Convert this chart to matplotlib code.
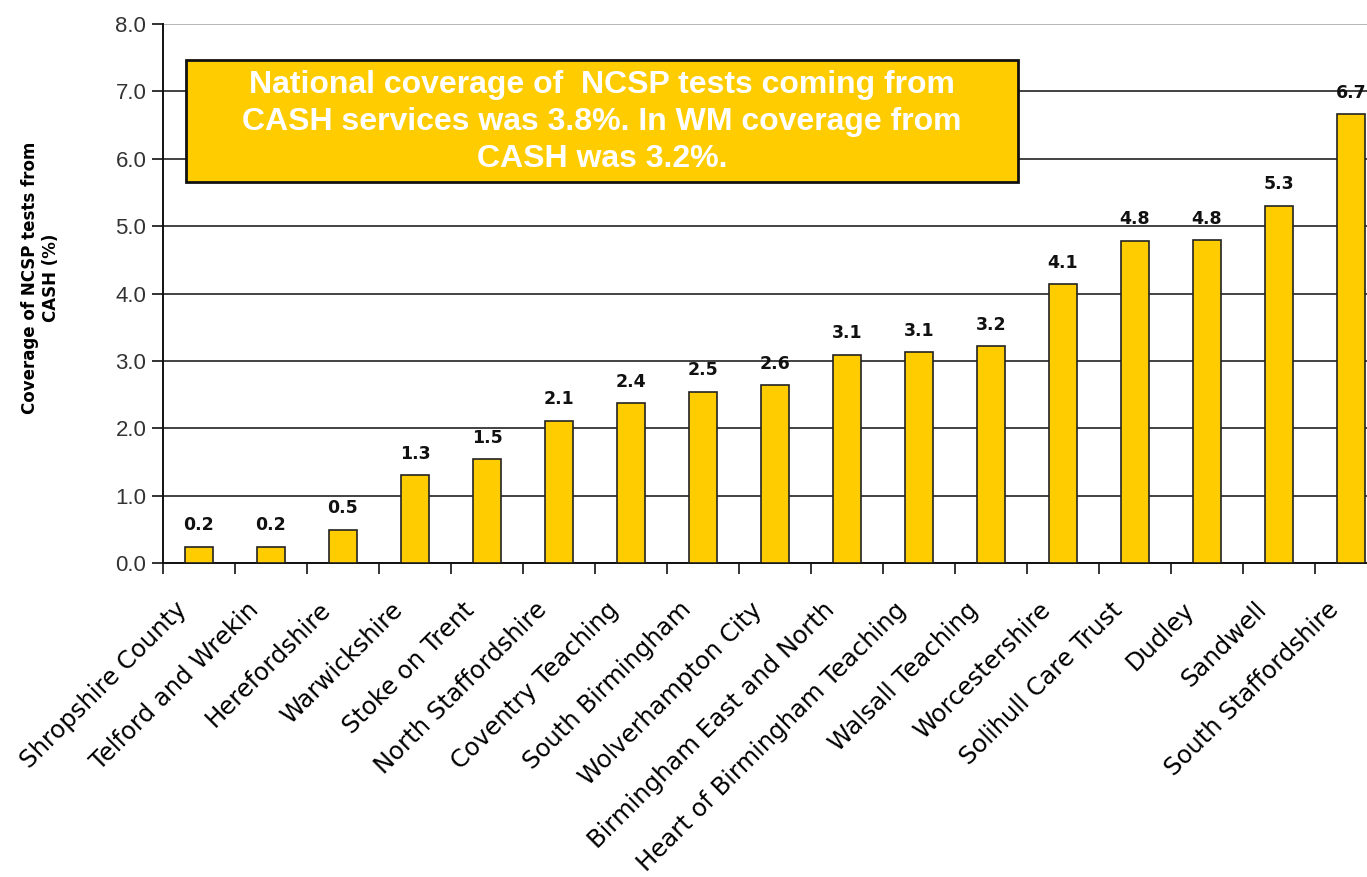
import numpy as np
import matplotlib.pyplot as plt
import matplotlib.transforms as mtransforms
from matplotlib.ticker import FixedLocator, NullFormatter

# data
areas = [
    "Shropshire County", "Telford and Wrekin", "Herefordshire", "Warwickshire",
    "Stoke on Trent", "North Staffordshire", "Coventry Teaching", "South Birmingham",
    "Wolverhampton City", "Birmingham East and North", "Heart of Birmingham Teaching",
    "Walsall Teaching", "Worcestershire", "Solihull Care Trust", "Dudley",
    "Sandwell", "South Staffordshire",
]
coverage = [0.24, 0.24, 0.49, 1.30, 1.54, 2.11, 2.37, 2.54, 2.64, 3.09, 3.13,
            3.22, 4.14, 4.78, 4.79, 5.30, 6.66]
shown = ["0.2", "0.2", "0.5", "1.3", "1.5", "2.1", "2.4", "2.5", "2.6", "3.1",
         "3.1", "3.2", "4.1", "4.8", "4.8", "5.3", "6.7"]
yticks = np.arange(0, 8.1, 1.0)

note = ("National coverage of  NCSP tests coming from\n"
        "CASH services was 3.8%. In WM coverage from\n"
        "CASH was 3.2%.")

yellow = "#FFCC00"

fig = plt.figure(figsize=(13.67, 8.77), dpi=100)
ax = fig.add_axes([163 / 1367, 1 - 563 / 877, 1224 / 1367, 539 / 877])

x = np.arange(len(areas))
bars = ax.bar(x, coverage, width=0.4, color=yellow, edgecolor="#222222",
              linewidth=1.2, zorder=3)

for b, txt in zip(bars, shown):
    ax.annotate(txt, (b.get_x() + b.get_width() / 2, b.get_height()),
                xytext=(0, 9), textcoords="offset points", ha="center",
                va="bottom", fontsize=12.5, fontweight="bold",
                family="DejaVu Sans", color="#111111")

ax.set_xlim(-0.5, len(areas) - 0.5)
ax.set_ylim(0, 8)
ax.set_yticks(yticks)
ax.set_yticklabels([f"{v:.1f}" for v in yticks], fontsize=16,
                   family="Liberation Sans", color="#333333")
ax.tick_params(axis="y", length=8, width=1.2, direction="out", color="#111111", pad=4)

ax.set_xticks(x)
ax.set_xticklabels(areas, rotation=45, ha="right", va="center",
                   rotation_mode="anchor", fontsize=17.5, family="DejaVu Sans")
ax.tick_params(axis="x", which="major", length=0, pad=31)
shift = mtransforms.ScaledTranslation(-16 / 100, 0, fig.dpi_scale_trans)
for lab in ax.get_xticklabels():
    lab.set_transform(lab.get_transform() + shift)
ax.xaxis.set_minor_locator(FixedLocator(np.arange(-0.5, len(areas), 1.0)))
ax.xaxis.set_minor_formatter(NullFormatter())
ax.tick_params(axis="x", which="minor", length=8, width=1.2, direction="out",
               color="#111111")

ax.grid(axis="y", color="#222222", linewidth=1.2, zorder=0)
ax.set_axisbelow(True)
ax.yaxis.get_gridlines()[-1].set_color("#aaaaaa")
for s in ["top", "right"]:
    ax.spines[s].set_visible(False)
for s in ["left", "bottom"]:
    ax.spines[s].set_color("#111111")
    ax.spines[s].set_linewidth(1.4)

ax.set_ylabel("Coverage of NCSP tests from\nCASH (%)", fontsize=12,
              fontweight="bold", family="DejaVu Sans")
ax.yaxis.set_label_coords(-0.084, 0.529)

# note box
box = plt.Rectangle((186 / 1367, 1 - 182 / 877), 832 / 1367, 122 / 877,
                    transform=fig.transFigure, facecolor=yellow,
                    edgecolor="#111111", linewidth=2, zorder=5)
fig.patches.append(box)
fig.text(602 / 1367, 1 - 122 / 877, note, ha="center", va="center",
         fontsize=23, fontweight="bold", color="white",
         family=["Liberation Sans Narrow", "Liberation Sans"],
         linespacing=1.3, zorder=6)

fig.savefig("out.png", dpi=100)
